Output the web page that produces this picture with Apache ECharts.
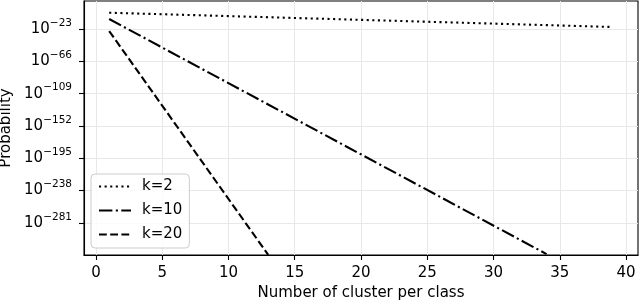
<!DOCTYPE html>
<html>
<head>
<meta charset="utf-8">
<script src="https://cdn.jsdelivr.net/npm/echarts@6/dist/echarts.min.js"></script>
<style>
html,body{margin:0;padding:0;background:#fff;}
#chart{width:640px;height:303px;}
</style>
</head>
<body>
<div id="chart"></div>
<script>
// exponents (log10 of probability)
var seriesNames = ['k=2', 'k=10', 'k=20'];
var xK2 = [1, 39];
var yK2 = [-1.3, -20.3];
var xK10 = [1, 34];
var yK10 = [-9.7, -322.5];
var xK20 = [1, 13];
var yK20 = [-25.7, -323.5];
var xTicks = [0, 5, 10, 15, 20, 25, 30, 35, 40];
var yTicks = [-281, -238, -195, -152, -109, -66, -23];

function pairs(xs, ys) {
  return xs.map(function (x, i) { return [x, ys[i]]; });
}
var FONT = 'DejaVu Sans';
var FS = 15;
var chart = echarts.init(document.getElementById('chart'), null, {renderer: 'canvas'});
var lw = 2.1;
chart.setOption({
  animation: false,
  backgroundColor: '#fff',
  textStyle: {fontFamily: FONT},
  grid: {left: 84, right: 2, top: 1, bottom: 48, outerBoundsMode: 'none', containLabel: false,
         show: true, borderColor: '#000', borderWidth: 1.1, backgroundColor: 'transparent'},
  legend: {
    data: seriesNames,
    orient: 'vertical',
    left: 91, top: 174,
    itemWidth: 32, itemHeight: 14, itemGap: 9,
    padding: [5, 7, 6, 7],
    backgroundColor: 'rgba(255,255,255,0.8)',
    borderColor: '#cccccc', borderWidth: 1, borderRadius: 4,
    itemStyle: {opacity: 0},
    textStyle: {fontFamily: FONT, fontSize: FS, color: '#000', padding: [0, 0, 0, 6]}
  },
  xAxis: {
    type: 'value', min: -0.9, max: 40.9,
    name: 'Number of cluster per class', nameLocation: 'middle', nameGap: 31,
    nameTextStyle: {fontFamily: FONT, fontSize: FS, color: '#000'},
    axisLine: {show: true, onZero: false, lineStyle: {color: '#000', width: 1.1}},
    axisTick: {show: true, length: 5, customValues: xTicks, lineStyle: {color: '#000', width: 1.1}},
    axisLabel: {customValues: xTicks, margin: 11, fontFamily: FONT, fontSize: FS, color: '#000'},
    splitLine: {show: true, customValues: xTicks, lineStyle: {color: '#e8e8e8', width: 1}}
  },
  yAxis: {
    type: 'value', min: -323.7, max: 14.3,
    name: 'Probability', nameLocation: 'middle', nameGap: 65, nameRotate: 90,
    nameTextStyle: {fontFamily: FONT, fontSize: FS, color: '#000'},
    axisLine: {show: true, onZero: false, lineStyle: {color: '#000', width: 1.1}},
    axisTick: {show: true, length: 5, customValues: yTicks, lineStyle: {color: '#000', width: 1.1}},
    axisLabel: {
      customValues: yTicks, margin: 12, color: '#000',
      formatter: function (v) { return '{b|10}{s|\u2212' + Math.abs(v) + '}'; },
      rich: {
        b: {fontFamily: FONT, fontSize: FS, lineHeight: 23, color: '#000'},
        s: {fontFamily: FONT, fontSize: 10.5, lineHeight: 10.5, verticalAlign: 'top', color: '#000'}
      }
    },
    splitLine: {show: true, customValues: yTicks, lineStyle: {color: '#e8e8e8', width: 1}}
  },
  series: [
    {name: 'k=2', type: 'line', data: pairs(xK2, yK2), showSymbol: false, symbol: 'none',
     lineStyle: {color: '#000', width: lw, type: [2.1, 3.5], cap: 'butt'}, itemStyle: {color: '#000'}},
    {name: 'k=10', type: 'line', data: pairs(xK10, yK10), showSymbol: false, symbol: 'none',
     lineStyle: {color: '#000', width: lw, type: [13.4, 3.4, 2.1, 3.4], cap: 'butt'}, itemStyle: {color: '#000'}},
    {name: 'k=20', type: 'line', data: pairs(xK20, yK20), showSymbol: false, symbol: 'none',
     lineStyle: {color: '#000', width: lw, type: [7.8, 3.4], cap: 'butt'}, itemStyle: {color: '#000'}}
  ]
});
</script>
</body>
</html>
